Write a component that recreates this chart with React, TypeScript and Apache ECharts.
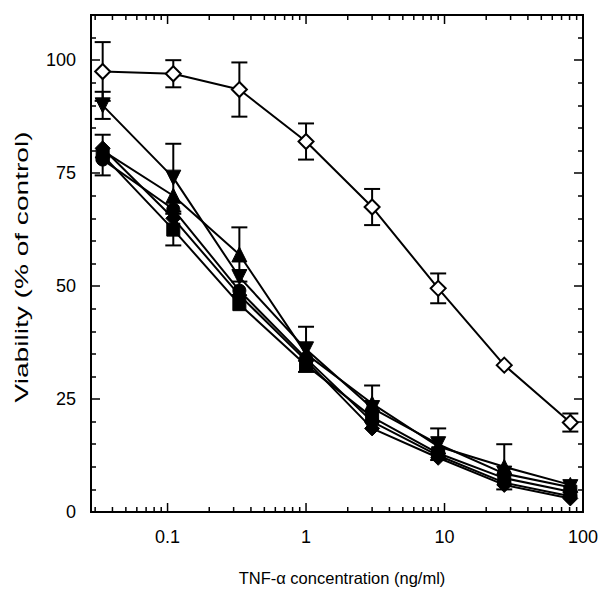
import React, { useEffect, useRef } from "react";
import * as echarts from "echarts";

// TNF-alpha concentrations (ng/ml), 3-fold dilutions
const concentrations = [0.034, 0.11, 0.33, 1, 3, 9, 27, 81];

// open diamonds (control-like curve)
const openDiamondVals = [97.5, 97, 93.5, 82, 67.5, 49.5, 32.5, 19.8];
const openDiamondErr = [6.5, 3, 6, 4, 4, 3.3, 0, 2];

// filled series
const downTriVals = [90, 74, 52, 36, 23, 15, 8.5, 5.5];
const downTriErr = [3, 7.5, 0, 5, 0, 3.5, 0, 0];
const upTriVals = [80, 70, 57, 35, 24, 14.5, 10, 6];
const upTriErr = [0, 0, 6, 0, 4, 0, 5, 0];
const squareVals = [79, 62.5, 46, 32.5, 21, 13, 7.5, 4.5];
const squareErr = [4.5, 3.5, 0, 0, 0, 0, 0, 0];
const circleVals = [78, 67, 49, 34, 20, 12.5, 6.5, 3.5];
const filledDiamondVals = [80.5, 65, 48, 33.5, 18.5, 12, 6, 3];

// axis ticks
const xMajorTicks = [0.1, 1, 10, 100];
const xMinorTicks = [
  0.03, 0.04, 0.05, 0.06, 0.07, 0.08, 0.09,
  0.2, 0.3, 0.4, 0.5, 0.6, 0.7, 0.8, 0.9,
  2, 3, 4, 5, 6, 7, 8, 9,
  20, 30, 40, 50, 60, 70, 80, 90,
];
const yTickLabels = [0, 25, 50, 75, 100];

const X_MIN = 0.028;
const X_MAX = 100;
const Y_MIN = 0;
const Y_MAX = 110;
const FONT = '"Liberation Sans", Arial, Helvetica, sans-serif';

function pairs(vals: number[]) {
  return concentrations.map((x, i) => [x, vals[i]]);
}
function errData(vals: number[], errs: number[]) {
  return concentrations
    .map((x, i) => [x, vals[i], errs[i]])
    .filter((d) => d[2] > 0);
}

export default function App() {
  const ref = useRef<HTMLDivElement>(null);

  useEffect(() => {
    document.body.style.margin = "0";
    if (!ref.current) return;
    const chart = echarts.init(ref.current, undefined, { renderer: "svg" });

    const errorRender = (params: any, api: any) => {
      const x = api.value(0);
      const y = api.value(1);
      const e = api.value(2);
      const top = api.coord([x, y + e]);
      const bot = api.coord([x, y - e]);
      const w = 8;
      const st = { stroke: "#000", lineWidth: 2 };
      return {
        type: "group",
        children: [
          { type: "line", shape: { x1: top[0], y1: top[1], x2: bot[0], y2: bot[1] }, style: st },
          { type: "line", shape: { x1: top[0] - w, y1: top[1], x2: top[0] + w, y2: top[1] }, style: st },
          { type: "line", shape: { x1: bot[0] - w, y1: bot[1], x2: bot[0] + w, y2: bot[1] }, style: st },
        ],
      };
    };

    const tickRender = (params: any, api: any) => {
      const v = api.value(0);
      const major = api.value(1) === 1;
      const b = api.coord([v, Y_MIN]);
      const t = api.coord([v, Y_MAX]);
      const len = major ? 9 : 5;
      const st = { stroke: "#000", lineWidth: 1.5 };
      return {
        type: "group",
        children: [
          { type: "line", shape: { x1: b[0], y1: b[1], x2: b[0], y2: b[1] - len }, style: st },
          { type: "line", shape: { x1: t[0], y1: t[1], x2: t[0], y2: t[1] + len }, style: st },
        ],
      };
    };

    const lineSeries = (name: string, vals: number[], symbol: string, opts: any = {}) => ({
      name,
      type: "line",
      data: pairs(vals),
      symbol,
      symbolSize: 14,
      lineStyle: { color: "#000", width: 2 },
      itemStyle: { color: "#000", borderColor: "#000", borderWidth: 1 },
      z: 3,
      ...opts,
    });

    const errSeries = (vals: number[], errs: number[]) => ({
      type: "custom",
      data: errData(vals, errs),
      renderItem: errorRender,
      clip: false,
      z: 2,
    });

    const yAxisBase = {
      type: "value",
      min: Y_MIN,
      max: Y_MAX,
      interval: 25,
      splitLine: { show: false },
      axisLine: { show: true, lineStyle: { color: "#000", width: 2 } },
      axisTick: { show: true, inside: true, length: 9, lineStyle: { color: "#000", width: 1.5 } },
      minorTick: { show: true, splitNumber: 5, length: 5, lineStyle: { color: "#000", width: 1.5 } },
    };

    chart.setOption({
      animation: false,
      backgroundColor: "#fff",
      grid: {
        left: 91,
        right: 21,
        top: 15,
        bottom: 78,
        show: true,
        borderColor: "#000",
        borderWidth: 2,
        backgroundColor: "transparent",
      },
      xAxis: {
        type: "log",
        logBase: 10,
        min: X_MIN,
        max: X_MAX,
        splitLine: { show: false },
        axisLine: { show: true, lineStyle: { color: "#000", width: 2 } },
        axisTick: { show: false },
        minorTick: { show: false },
        axisLabel: {
          interval: 0,
          color: "#000",
          fontSize: 18,
          fontFamily: FONT,
          margin: 16,
          formatter: (v: number) => {
            const l = Math.log10(v);
            if (Math.abs(l - Math.round(l)) > 1e-6) return "";
            const m = xMajorTicks.find((t) => Math.abs(t - v) / t < 1e-6);
            return m !== undefined ? String(m) : "";
          },
        },
      },
      yAxis: [
        {
          ...yAxisBase,
          position: "left",
          axisLabel: {
            color: "#000",
            fontSize: 18,
            fontFamily: FONT,
            margin: 15,
            formatter: (v: number) => (yTickLabels.indexOf(v) >= 0 ? String(v) : ""),
          },
        },
        {
          ...yAxisBase,
          position: "right",
          axisLabel: { show: false },
        },
      ],
      graphic: [
        {
          type: "text",
          x: 22,
          y: 267,
          rotation: Math.PI / 2,
          scaleX: 1.56,
          style: {
            text: "Viability (% of control)",
            font: `18px ${FONT}`,
            fill: "#000",
            textAlign: "center",
            textVerticalAlign: "middle",
            align: "center",
            verticalAlign: "middle",
          },
        },
        {
          type: "text",
          x: 342,
          y: 578,
          style: {
            text: "TNF-\u03b1 concentration (ng/ml)",
            font: `16.5px ${FONT}`,
            fill: "#000",
            textAlign: "center",
            textVerticalAlign: "middle",
            align: "center",
            verticalAlign: "middle",
          },
        },
      ],
      series: [
        {
          type: "custom",
          data: [
            ...xMajorTicks.map((v) => [v, 1]),
            ...xMinorTicks.map((v) => [v, 0]),
          ],
          renderItem: tickRender,
          clip: false,
          silent: true,
          z: 1,
        },
        errSeries(openDiamondVals, openDiamondErr),
        errSeries(downTriVals, downTriErr),
        errSeries(upTriVals, upTriErr),
        errSeries(squareVals, squareErr),
        lineSeries("circle", circleVals, "circle", { symbolSize: 13 }),
        lineSeries("filled diamond", filledDiamondVals, "diamond", { symbolSize: 15 }),
        lineSeries("square", squareVals, "rect", { symbolSize: 13 }),
        lineSeries("up triangle", upTriVals, "triangle", { symbolSize: 15 }),
        lineSeries("down triangle", downTriVals, "triangle", { symbolSize: 15, symbolRotate: 180 }),
        lineSeries("open diamond", openDiamondVals, "diamond", {
          symbolSize: 15,
          itemStyle: { color: "#fff", borderColor: "#000", borderWidth: 2 },
          z: 4,
        }),
      ],
    });

    return () => chart.dispose();
  }, []);

  return <div ref={ref} style={{ width: 604, height: 590 }} />;
}
